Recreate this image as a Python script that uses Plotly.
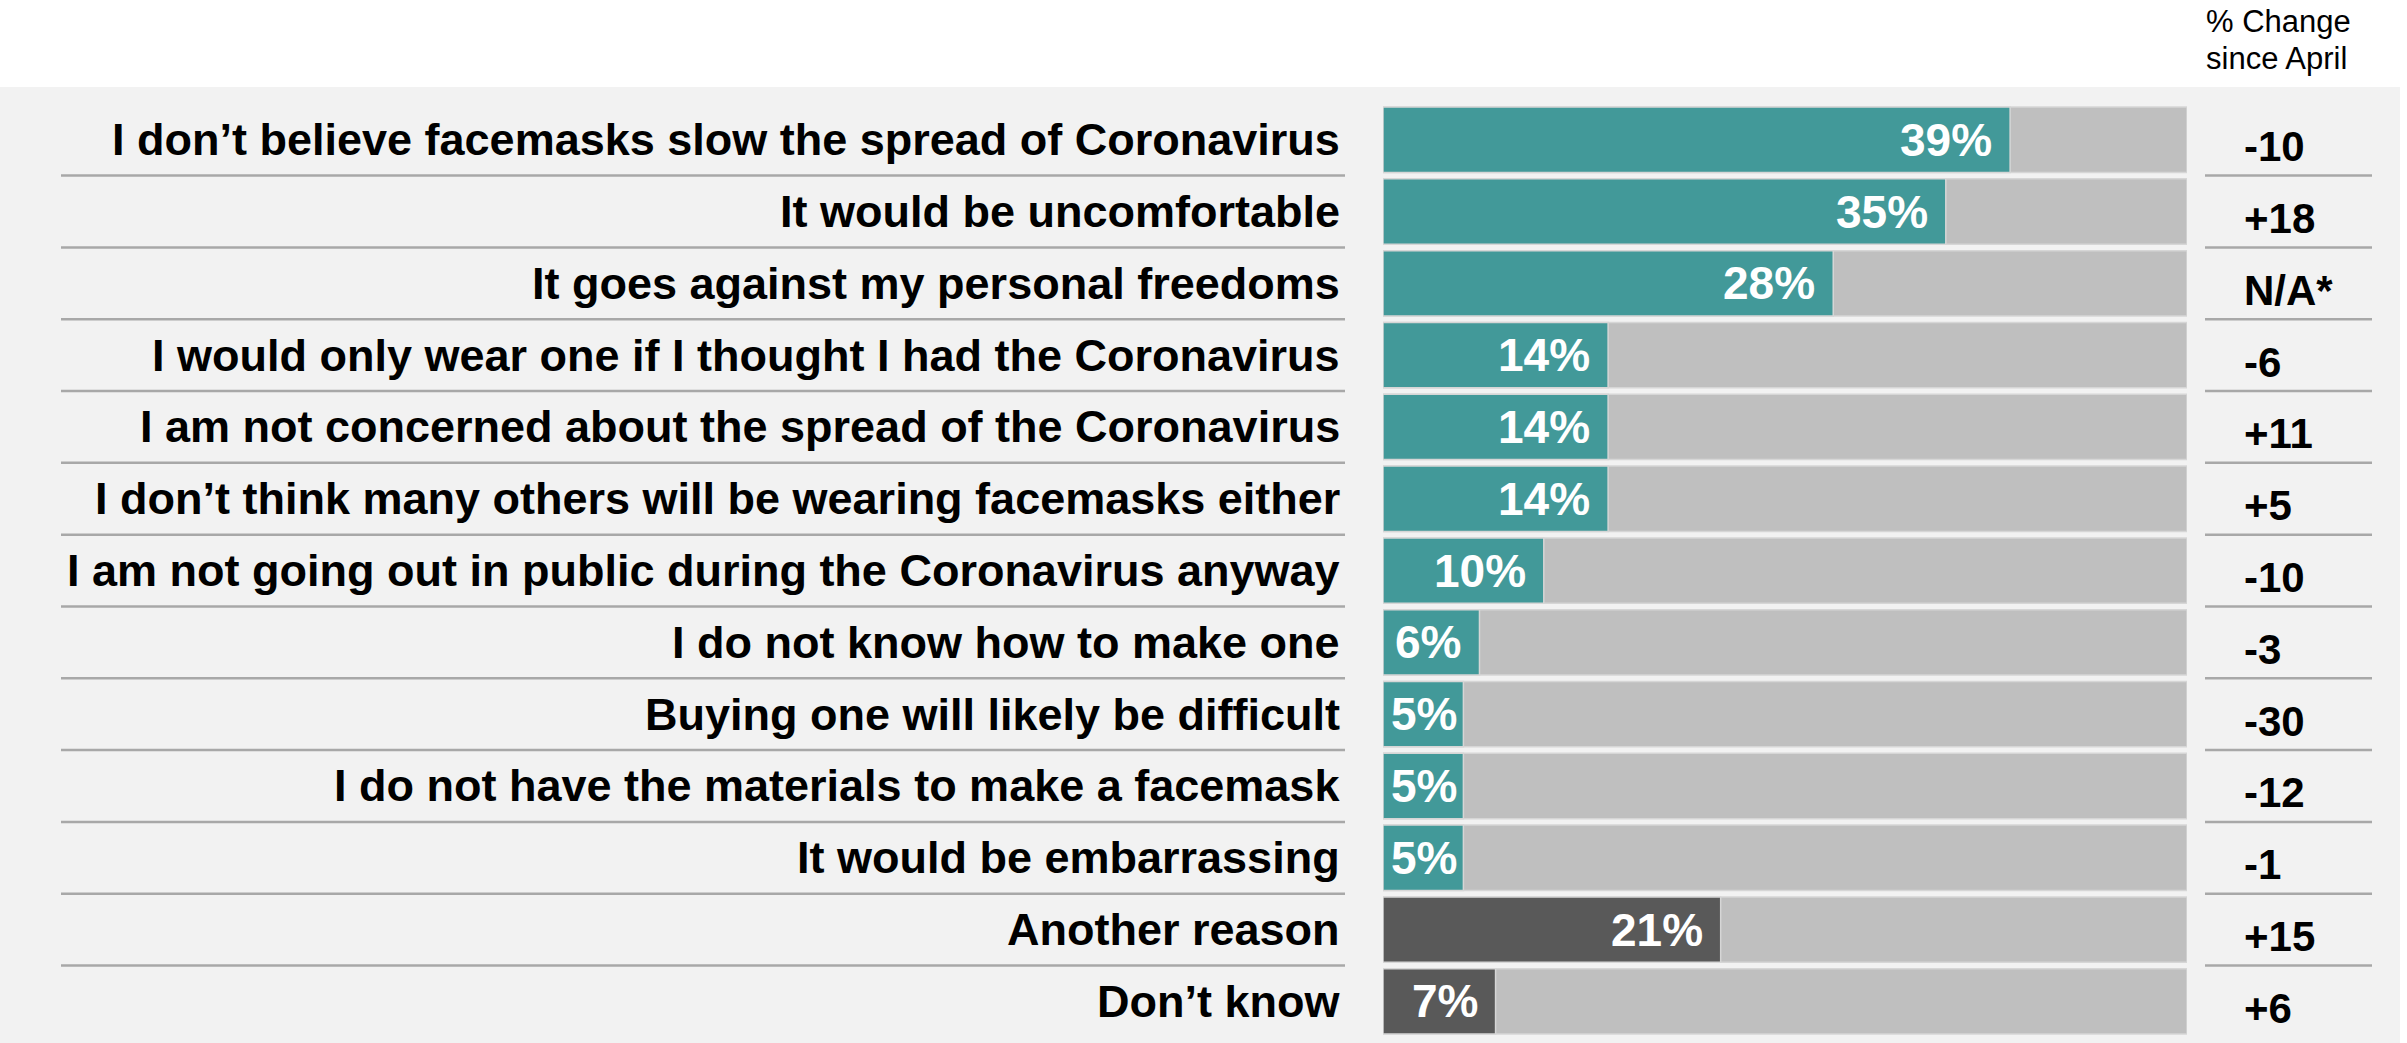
import plotly.graph_objects as go

# ---------------- data ----------------
categories = [
    "I don’t believe facemasks slow the spread of Coronavirus",
    "It would be uncomfortable",
    "It goes against my personal freedoms",
    "I would only wear one if I thought I had the Coronavirus",
    "I am not concerned about the spread of the Coronavirus",
    "I don’t think many others will be wearing facemasks either",
    "I am not going out in public during the Coronavirus anyway",
    "I do not know how to make one",
    "Buying one will likely be difficult",
    "I do not have the materials to make a facemask",
    "It would be embarrassing",
    "Another reason",
    "Don’t know",
]
values = [39, 35, 28, 14, 14, 14, 10, 6, 5, 5, 5, 21, 7]
changes = ["-10", "+18", "N/A*", "-6", "+11", "+5", "-10", "-3", "-30", "-12", "-1", "+15", "+6"]
groups = ["reason"] * 11 + ["other"] * 2
scale_max = 50
header_lines = ["% Change", "since April"]

# ---------------- style ----------------
W, H = 2407, 1043
FONT = "Liberation Sans, Arial, sans-serif"
TEAL = "#429999"
DARK = "#595959"
TRACK = "#bfbfbf"
BG = "#f2f2f2"
SEP = "#a8a8a8"
color_map = {"reason": TEAL, "other": DARK}

bar_x0, bar_x1 = 1383, 2187
plot_top, plot_bot = 103.8, 1037.3
n = len(categories)

fig = go.Figure()

fig.add_trace(go.Bar(
    y=categories, x=[scale_max] * n, orientation="h",
    marker=dict(color=TRACK, line=dict(color="#d6d6d6", width=1.5)),
    hoverinfo="skip", showlegend=False,
))
fig.add_trace(go.Bar(
    y=categories, x=values, orientation="h",
    marker=dict(color=[color_map[g] for g in groups], line=dict(color="#d6d6d6", width=1.5)),
    hoverinfo="skip", showlegend=False,
))

px_per_unit = (bar_x1 - bar_x0) / scale_max
annotations = []
for cat, v, ch in zip(categories, values, changes):
    # category label
    annotations.append(dict(
        x=1342 / W, xref="paper", y=cat, yref="y", xanchor="right", yanchor="middle",
        text=f"<b>{cat}</b>", showarrow=False,
        font=dict(family=FONT, size=45, color="black"),
    ))
    # value label inside bar
    if v * px_per_unit < 90:
        annotations.append(dict(
            x=0, xref="x", y=cat, yref="y", xanchor="left", yanchor="middle", xshift=6,
            text=f"<b>{v}%</b>", showarrow=False,
            font=dict(family=FONT, size=46, color="white"),
        ))
    else:
        annotations.append(dict(
            x=v, xref="x", y=cat, yref="y", xanchor="right", yanchor="middle", xshift=-16,
            text=f"<b>{v}%</b>", showarrow=False,
            font=dict(family=FONT, size=46, color="white"),
        ))
    # change column
    annotations.append(dict(
        x=2242 / W, xref="paper", y=cat, yref="y", xanchor="left", yanchor="middle", yshift=-7,
        text=f"<b>{ch}</b>", showarrow=False,
        font=dict(family=FONT, size=42, color="black"),
    ))

for line, ypx in zip(header_lines, [22, 59]):
    annotations.append(dict(
        x=2204 / W, xref="paper", y=1 - ypx / H, yref="paper", xanchor="left", yanchor="middle",
        text=line, showarrow=False, font=dict(family=FONT, size=31, color="black"),
    ))

shapes = [dict(type="rect", xref="paper", yref="paper", x0=0, x1=2400 / W, y0=0, y1=1 - 87 / H,
               fillcolor=BG, line=dict(width=0), layer="below")]
for i in range(n - 1):
    for xa, xb in [(61, 1345), (2205, 2372)]:
        shapes.append(dict(type="line", xref="paper", yref="y", x0=xa / W, x1=xb / W,
                           y0=i + 0.5, y1=i + 0.5, line=dict(color=SEP, width=2.5), layer="above"))

fig.update_layout(
    width=W, height=H,
    margin=dict(l=0, r=0, t=0, b=0),
    paper_bgcolor="white", plot_bgcolor="rgba(0,0,0,0)",
    barmode="overlay", bargap=0.09,
    xaxis=dict(domain=[bar_x0 / W, bar_x1 / W], range=[0, scale_max], visible=False, fixedrange=True),
    yaxis=dict(domain=[1 - plot_bot / H, 1 - plot_top / H], type="category",
               categoryorder="array", categoryarray=categories,
               range=[n - 0.5, -0.5], visible=False, fixedrange=True),
    annotations=annotations, shapes=shapes,
    font=dict(family=FONT),
)

fig.write_html("out.html", config={"displayModeBar": False},
               post_script="document.body.style.margin='0';document.body.style.overflow='hidden';")
